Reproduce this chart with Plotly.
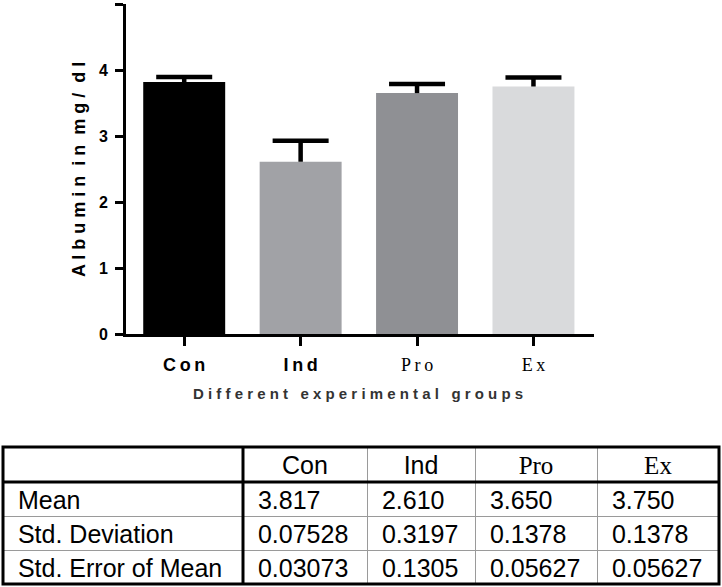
import plotly.graph_objects as go

# ---- data ----
groups = ["Con", "Ind", "Pro", "Ex"]
means = [3.817, 2.610, 3.650, 3.750]
std_devs = [0.07528, 0.3197, 0.1378, 0.1378]
std_errs = [0.03073, 0.1305, 0.05627, 0.05627]
row_labels = ["Mean", "Std. Deviation", "Std. Error of Mean"]
y_ticks = [0, 1, 2, 3, 4, 5]
bar_colors = ["#000000", "#a1a2a6", "#8f9094", "#d9dadc"]

W, H = 722, 587
def px(x):
    return x / W
def py(y):
    return 1 - y / H

TS = "\u2009"  # thin space for letter spacing
def spaced(s, sep=TS):
    return sep.join(list(s))

serif_span = "<span style=\"font-family:'Liberation Serif', 'Times New Roman', serif;font-weight:normal\">"
tick_text = [
    "<b>" + spaced("Con") + "</b>",
    "<b>" + spaced("Ind") + "</b>",
    serif_span + spaced("Pro") + "</span>",
    serif_span + spaced("Ex") + "</span>",
]

fig = go.Figure()
fig.add_trace(go.Bar(
    x=groups, y=means,
    marker=dict(color=bar_colors, line=dict(width=0)),
    xaxis="x", yaxis="y", hoverinfo="skip",
))
# upper-only SD error bars: cap marker at mean+SD with a stem down to the mean
tops = [m + s for m, s in zip(means, std_devs)]
fig.add_trace(go.Scatter(
    x=groups, y=tops, mode="markers",
    marker=dict(symbol="line-ew-open", size=40, color="black",
                line=dict(color="black", width=4.5)),
    error_y=dict(type="data", symmetric=False, array=[0] * len(groups),
                 arrayminus=std_devs, color="black", thickness=4.5, width=0),
    xaxis="x", yaxis="y", hoverinfo="skip", cliponaxis=False,
))

def fmt4(v):
    return f"{v:.4g}"

header_vals = [""] + groups
cell_cols = [[" " + r for r in row_labels]]
for i in range(len(groups)):
    cell_cols.append([" " + f"{means[i]:.3f}", " " + fmt4(std_devs[i]), " " + fmt4(std_errs[i])])

serif = "Liberation Serif"
sans = "Liberation Sans"
fig.add_trace(go.Table(
    domain=dict(x=[px(3), px(719)], y=[0, py(447)]),
    columnwidth=[240, 124, 108, 122, 122],
    header=dict(values=header_vals, height=35, align="center",
                font=dict(family=[sans, sans, sans, serif, serif], size=25, color="black"),
                fill=dict(color="white"),
                line=dict(color="#9a9a9a", width=1)),
    cells=dict(values=cell_cols, height=34, align="left",
               font=dict(family=sans, size=25, color="black"),
               fill=dict(color="white"),
               line=dict(color="#9a9a9a", width=1)),
))

# thick table borders
shapes = [
    dict(type="rect", xref="paper", yref="paper", x0=px(3), x1=px(719), y0=py(584), y1=py(447),
         line=dict(color="black", width=3)),
    dict(type="line", xref="paper", yref="paper", x0=px(3), x1=px(719), y0=py(482), y1=py(482),
         line=dict(color="black", width=3)),
    dict(type="line", xref="paper", yref="paper", x0=px(243), x1=px(243), y0=py(584), y1=py(447),
         line=dict(color="black", width=3)),
]

x_title = "   ".join(" ".join(list(w)) for w in ["Different", "experimental", "groups"])
y_title = "  ".join(" ".join(list(w)) for w in ["Albumin", "in", "mg/", "dl"])

fig.update_layout(
    width=W, height=H,
    margin=dict(l=0, r=0, t=0, b=0, autoexpand=False),
    paper_bgcolor="white", plot_bgcolor="white",
    showlegend=False,
    bargap=0.296,
    font=dict(family="Liberation Sans, Arial, sans-serif", color="black"),
    xaxis=dict(domain=[px(126), px(594)], range=[-0.5, 3.52], automargin=False,
               tickmode="array", tickvals=groups, ticktext=tick_text,
               tickfont=dict(family="Liberation Sans, Arial", size=18, color="black"),
               showline=True, linecolor="black", linewidth=3,
               ticks="outside", ticklen=9, tickwidth=3, tickcolor="black",
               ticklabelstandoff=3,
               showgrid=False, zeroline=False, fixedrange=True),
    yaxis=dict(domain=[py(334), py(4)], range=[0, 5], automargin=False,
               tickmode="array", tickvals=y_ticks,
               tickfont=dict(family="Liberation Sans, Arial", size=16, color="black", weight="bold"),
               showline=True, linecolor="black", linewidth=3,
               ticks="outside", ticklen=8, tickwidth=3, tickcolor="black",
               ticklabelstandoff=4,
               showgrid=False, zeroline=False, fixedrange=True),
    shapes=shapes,
    annotations=[
        dict(text=x_title,
             xref="paper", yref="paper", x=px(358), y=py(393),
             xanchor="center", yanchor="middle", showarrow=False,
             font=dict(family="Liberation Sans, Arial", size=15, color="#333333", weight="bold")),
        dict(text=y_title,
             xref="paper", yref="paper", x=px(79), y=py(170), textangle=-90,
             xanchor="center", yanchor="middle", showarrow=False,
             font=dict(family="Liberation Sans, Arial", size=18, color="black", weight="bold")),
    ],
)

fig.write_html("out.html", config={"displayModeBar": False},
               post_script="document.body.style.margin='0px';document.body.style.overflow='hidden';")
